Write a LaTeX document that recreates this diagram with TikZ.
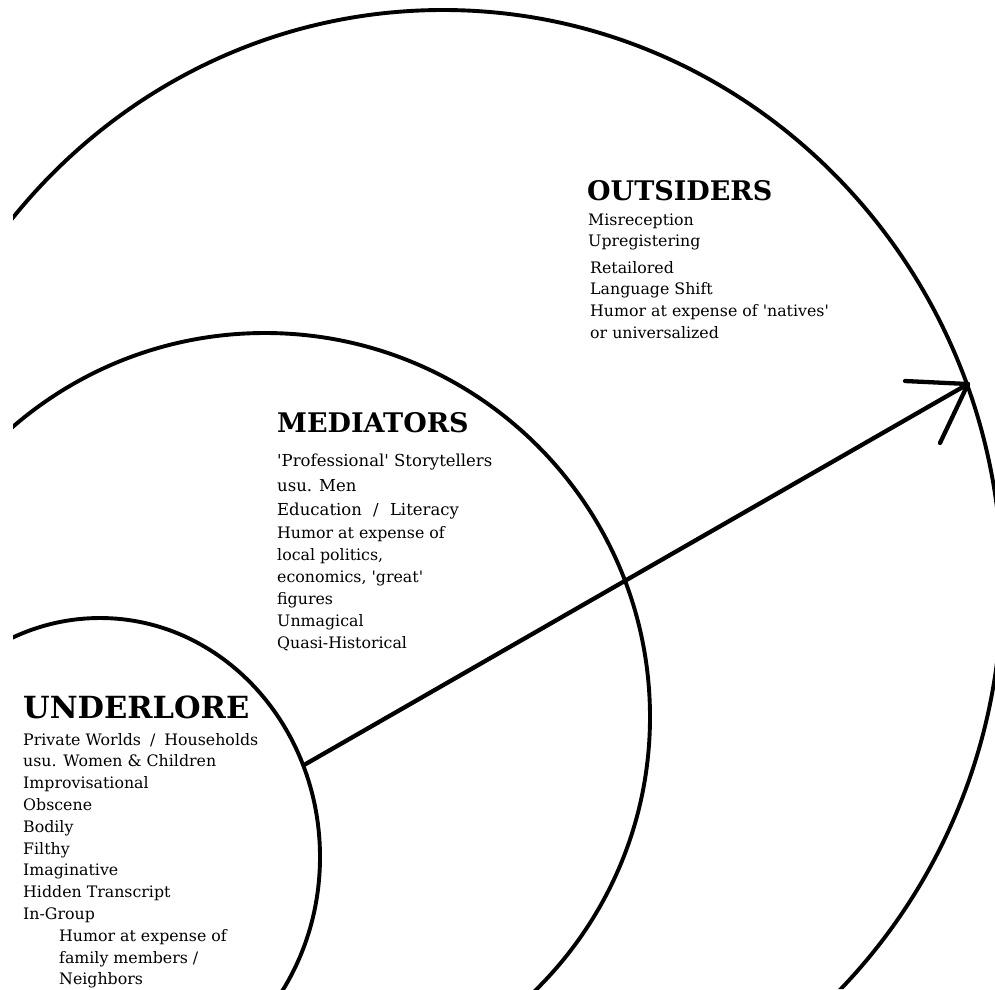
\documentclass[tikz,border=0pt]{standalone}
\usepackage{fontspec}
\setmainfont{DejaVu Serif}
\newcommand{\sq}{\textquotesingle}
\begin{document}
\begin{tikzpicture}[x=1pt,y=-1pt,
  ring/.style={line width=3.9pt},
  head/.style={font=\bfseries\fontsize{27}{30}\selectfont, inner sep=0pt, anchor=base west},
  body/.style={font=\fontsize{15.8}{20}\selectfont, inner sep=0pt, anchor=base west},
  bodybig/.style={font=\fontsize{16.5}{20}\selectfont, inner sep=0pt, anchor=base west},
  arrowline/.style={line width=4.3pt, line cap=round, line join=round}]
\useasboundingbox (0,0) rectangle (995,989);
\fill[white] (0,0) rectangle (995,989);
\begin{scope}
  \clip (13,0) rectangle (995,989);
  \draw[ring] (265,717) ellipse [x radius=385pt, y radius=384pt];
  \draw[ring] (100,857) ellipse [x radius=220pt, y radius=239pt];
\end{scope}
\begin{scope}
  \clip (13,0) -- (995,0) -- (995,989) -- (400,989) -- (13,700) -- cycle;
  \draw[ring] (443,585) ellipse [x radius=559pt, y radius=575pt];
\end{scope}

% arrow
\coordinate (tail) at (304,765);
\coordinate (tip) at (968,384);
\coordinate (barbL) at (905,381);
\coordinate (barbR) at (940,443);
\draw[arrowline] (tail) -- (tip);
\draw[arrowline] (barbL) -- (tip) -- (barbR);

% OUTSIDERS
\node[head] (outT) at (587,200) {OUTSIDERS};
\foreach \t [count=\i] in {Misreception, Upregistering}
  \node[body] (outA\i) at ({588},{225+21.5*(\i-1)}) {\t};
\foreach \t [count=\i] in {Retailored, Language Shift, Humor at expense of {\sq}natives{\sq}, or universalized}
  \node[body] (outB\i) at ({590},{273+21.8*(\i-1)}) {\t};

% MEDIATORS
\node[head] (medT) at (277,432) {MEDIATORS};
\node[bodybig] (medA1) at (277,466) {{\sq}Professional{\sq} Storytellers};
\node[bodybig] (medA2) at (277,491) {usu. Men};
\node[bodybig] (medA3) at (277,515) {Education\hspace{6pt} / \hspace{6pt}Literacy};
\foreach \t [count=\i] in {Humor at expense of, {local politics,}, {economics, {\sq}great{\sq}}, figures, Unmagical, Quasi-Historical}
  \node[body] (medB\i) at ({277},{538+22*(\i-1)}) {\t};

% UNDERLORE
\node[head, font=\bfseries\fontsize{30.5}{33}\selectfont] (undT) at (23,718) {UNDERLORE};
\foreach \t [count=\i] in {Private Worlds\hspace{4pt} / \hspace{4pt}Households, usu. Women \& Children, Improvisational, Obscene, Bodily, Filthy, Imaginative, Hidden Transcript, In-Group}
  \node[body] (undA\i) at ({23},{745+21.8*(\i-1)}) {\t};
\foreach \t [count=\i] in {Humor at expense of, family members /, Neighbors}
  \node[body] (undB\i) at ({59},{941.2+21.8*(\i-1)}) {\t};
\end{tikzpicture}
\end{document}
